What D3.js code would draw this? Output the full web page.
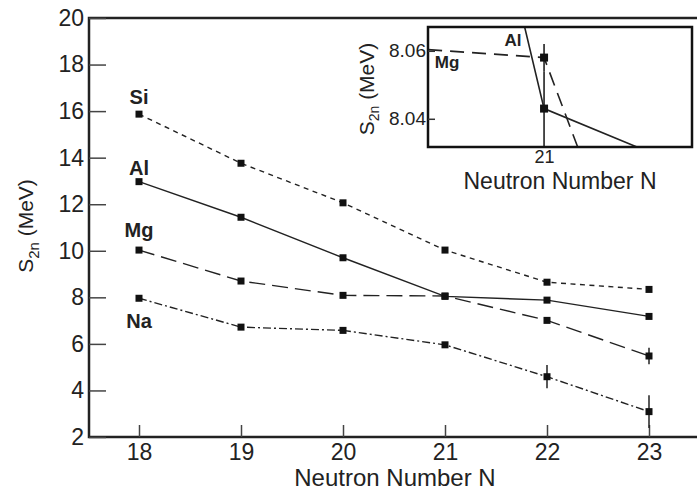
<!DOCTYPE html>
<html>
<head>
<meta charset="utf-8">
<script src="https://cdn.jsdelivr.net/npm/d3@7"></script>
<style>
  body { margin: 0; background: #fff; }
  text { font-family: "Liberation Sans", Arial, Helvetica, sans-serif; fill: #222; }
</style>
</head>
<body>
<div id="chart"></div>
<script>
// neutron numbers and two-neutron separation energies (MeV)
var neutrons = [18, 19, 20, 21, 22, 23];
var si = [15.87, 13.76, 12.06, 10.03, 8.65, 8.34];
var al = [12.97, 11.44, 9.70, 8.043, 7.88, 7.18];
var mg = [10.03, 8.70, 8.085, 8.058, 7.01, 5.48];
var na = [7.96, 6.72, 6.58, 5.96, 4.59, 3.09];

var siErr = [0, 0, 0, 0, 0, 0];
var alErr = [0, 0, 0, 0.011, 0, 0];
var mgErr = [0, 0, 0, 0.004, 0, 0.35];
var naErr = [0, 0, 0, 0, 0.5, 0.7];

var yTicks = [2, 4, 6, 8, 10, 12, 14, 16, 18, 20];
var insetYTicks = [8.04, 8.06];
var insetXTicks = [21];

var w = 697, h = 491;

var svg = d3.select("#chart").append("svg")
    .attr("width", w)
    .attr("height", h);

var x = d3.scaleLinear().domain([18, 23]).range([139, 649]);
var y = d3.scaleLinear().domain([2, 20]).range([437, 18]);

var series = [
  { name: "Si", vals: si, err: siErr, dash: "5,4.5", dy: -10 },
  { name: "Al", vals: al, err: alErr, dash: null, dy: -7 },
  { name: "Mg", vals: mg, err: mgErr, dash: "16,7", dy: -13 },
  { name: "Na", vals: na, err: naErr, dash: "8,3,2,3", dy: 30 }
];

function pts(s) {
  return neutrons.map(function(n, i) { return { n: n, v: s.vals[i], e: s.err[i] }; });
}

// main frame (runs off the right edge)
svg.append("path")
    .attr("d", "M" + (x(23) + 80) + "," + y(20) + "H" + 89 + "V" + y(2) + "H" + (x(23) + 80))
    .attr("fill", "none")
    .attr("stroke", "#222")
    .attr("stroke-width", 2.5);

var yAxis = d3.axisLeft(y).tickValues(yTicks).tickSize(-17).tickPadding(4);
var gy = svg.append("g").attr("transform", "translate(89,0)").call(yAxis);
gy.select(".domain").remove();
gy.selectAll(".tick line").attr("stroke", "#444").attr("stroke-width", 1.5);
gy.selectAll(".tick text").style("font-size", "23px").attr("dx", "-1");

var xAxis = d3.axisBottom(x).tickValues(neutrons).tickSize(-12).tickPadding(7)
    .tickFormat(d3.format("d"));
var gx = svg.append("g").attr("transform", "translate(0,437)").call(xAxis);
gx.select(".domain").remove();
gx.selectAll(".tick line").attr("stroke", "#444").attr("stroke-width", 1.5);
gx.selectAll(".tick text").style("font-size", "23px");

svg.append("text")
    .attr("x", 395).attr("y", 486)
    .attr("text-anchor", "middle")
    .style("font-size", "24px")
    .text("Neutron Number N");

var yt = svg.append("text")
    .attr("transform", "translate(33,226) rotate(-90)")
    .attr("text-anchor", "middle")
    .style("font-size", "21px");
yt.append("tspan").text("S");
yt.append("tspan").attr("dy", 6).style("font-size", "15px").text("2n");
yt.append("tspan").attr("dy", -6).text(" (MeV)");

var line = d3.line().x(function(d) { return x(d.n); }).y(function(d) { return y(d.v); });

series.forEach(function(s) {
  var p = pts(s);
  svg.append("path")
      .datum(p)
      .attr("d", line)
      .attr("fill", "none")
      .attr("stroke", "#222")
      .attr("stroke-width", 1.4)
      .attr("stroke-dasharray", s.dash);

  svg.selectAll(null)
      .data(p.filter(function(d) { return d.e > 0.1; }))
      .enter().append("line")
      .attr("x1", function(d) { return x(d.n); })
      .attr("x2", function(d) { return x(d.n); })
      .attr("y1", function(d) { return y(d.v - d.e); })
      .attr("y2", function(d) { return y(d.v + d.e); })
      .attr("stroke", "#222")
      .attr("stroke-width", 1.5);

  svg.selectAll(null)
      .data(p)
      .enter().append("rect")
      .attr("x", function(d) { return x(d.n) - 3.5; })
      .attr("y", function(d) { return y(d.v) - 3.5; })
      .attr("width", 7).attr("height", 7)
      .attr("fill", "#111");

  svg.append("text")
      .attr("x", x(18)).attr("y", y(s.vals[0]) + s.dy)
      .attr("text-anchor", "middle")
      .style("font-size", "20px")
      .style("font-weight", "bold")
      .text(s.name);
});

// inset
var ix = d3.scaleLinear().domain([20.9134, 21.1104]).range([428, 692]);
var iy = d3.scaleLinear().domain([8.0317, 8.0670]).range([147, 27]);

svg.append("clipPath").attr("id", "insetClip")
  .append("rect").attr("x", 428).attr("y", 27).attr("width", 264).attr("height", 120);

svg.append("rect")
    .attr("x", 428).attr("y", 27).attr("width", 264).attr("height", 120)
    .attr("fill", "#fff");

var inset = svg.append("g").attr("clip-path", "url(#insetClip)");
var iline = d3.line().x(function(d) { return ix(d.n); }).y(function(d) { return iy(d.v); });

[series[1], series[2]].forEach(function(s) {
  var p = pts(s);
  inset.append("path")
      .datum(p)
      .attr("d", iline)
      .attr("fill", "none")
      .attr("stroke", "#222")
      .attr("stroke-width", 1.6)
      .attr("stroke-dasharray", s.name == "Mg" ? "14,8" : null);

  inset.selectAll(null)
      .data(p.filter(function(d) { return d.e > 0; }))
      .enter().append("line")
      .attr("x1", function(d) { return ix(d.n); })
      .attr("x2", function(d) { return ix(d.n); })
      .attr("y1", function(d) { return iy(d.v - d.e); })
      .attr("y2", function(d) { return iy(d.v + d.e); })
      .attr("stroke", "#222")
      .attr("stroke-width", 1.6);

  inset.selectAll(null)
      .data(p)
      .enter().append("rect")
      .attr("x", function(d) { return ix(d.n) - 4; })
      .attr("y", function(d) { return iy(d.v) - 4; })
      .attr("width", 8).attr("height", 8)
      .attr("fill", "#111");
});

svg.append("rect")
    .attr("x", 428).attr("y", 27).attr("width", 264).attr("height", 120)
    .attr("fill", "none")
    .attr("stroke", "#111")
    .attr("stroke-width", 2.5);

var iyAxis = d3.axisLeft(iy).tickValues(insetYTicks).tickSize(7).tickPadding(2)
    .tickFormat(d3.format(".2f"));
var giy = svg.append("g").attr("transform", "translate(435,0)").call(iyAxis);
giy.select(".domain").remove();
giy.selectAll(".tick line").attr("stroke", "#333").attr("stroke-width", 1.5);
giy.selectAll(".tick text").style("font-size", "19px");

var ixAxis = d3.axisBottom(ix).tickValues(insetXTicks).tickSize(0).tickPadding(3)
    .tickFormat(d3.format("d"));
var gix = svg.append("g").attr("transform", "translate(0,147)").call(ixAxis);
gix.select(".domain").remove();
gix.selectAll(".tick text").style("font-size", "18px");

svg.append("text")
    .attr("x", 560).attr("y", 189)
    .attr("text-anchor", "middle")
    .style("font-size", "23px")
    .text("Neutron Number N");

var iyt = svg.append("text")
    .attr("transform", "translate(374,89) rotate(-90)")
    .attr("text-anchor", "middle")
    .style("font-size", "21px");
iyt.append("tspan").text("S");
iyt.append("tspan").attr("dy", 5).style("font-size", "14px").text("2n");
iyt.append("tspan").attr("dy", -5).text(" (MeV)");

svg.append("text")
    .attr("x", 513).attr("y", 46)
    .attr("text-anchor", "middle")
    .style("font-size", "17px").style("font-weight", "bold")
    .text("Al");
svg.append("text")
    .attr("x", 447).attr("y", 68)
    .attr("text-anchor", "middle")
    .style("font-size", "17px").style("font-weight", "bold")
    .text("Mg");
</script>
</body>
</html>
